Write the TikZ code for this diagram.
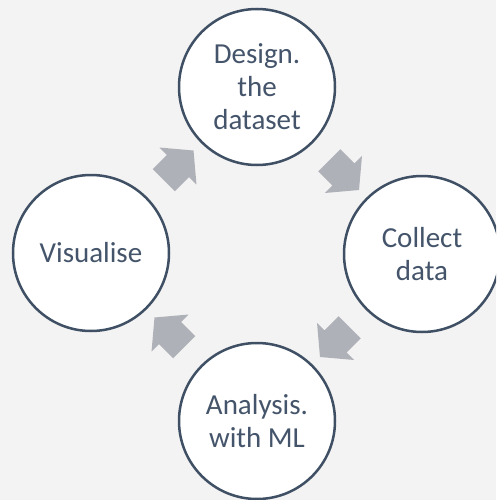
\documentclass[tikz,border=0pt]{standalone}
\usepackage{fontspec}
\setmainfont{Carlito}
\usetikzlibrary{shapes.arrows, calc}
\definecolor{pagebg}{HTML}{F4F3F3}
\definecolor{ringline}{HTML}{3F5065}
\definecolor{ringtext}{HTML}{44546A}
\definecolor{arrowgrey}{HTML}{AEB1B8}

\begin{document}
\begin{tikzpicture}[
    x=1pt, y=-1pt,
    every node/.style={font=\fontsize{29}{33}\selectfont, text=ringtext},
    stage/.style={circle, draw=ringline, line width=2.5pt, fill=white, minimum size=156pt, inner sep=0pt, align=center},
    flow/.style={single arrow, fill=arrowgrey, draw=none, minimum height=42pt, inner xsep=0pt, inner ysep=15.5pt, single arrow head extend=10.5pt, single arrow tip angle=100}
]
    \fill[pagebg] (0,0) rectangle (496,500);
    \clip (0,0) rectangle (496,500);

    \node[stage] (design)   at (257,87)  {Design.\\the\\dataset};
    \node[stage] (collect)  at (422,254) {Collect\\data};
    \node[stage] (analysis) at (257,421) {Analysis.\\with ML};
    \node[stage] (visual)   at (91,253)  {Visualise};

    % block arrows half way between the stages
    \node[flow, rotate=-45]  (toCollect)  at ($(design)!0.5!(collect)$)   {};
    \node[flow, rotate=-135] (toAnalysis) at ($(collect)!0.5!(analysis)$) {};
    \node[flow, rotate=135]  (toVisual)   at ($(analysis)!0.5!(visual)$)  {};
    \node[flow, rotate=45]   (toDesign)   at ($(visual)!0.5!(design)$)    {};
\end{tikzpicture}
\end{document}
